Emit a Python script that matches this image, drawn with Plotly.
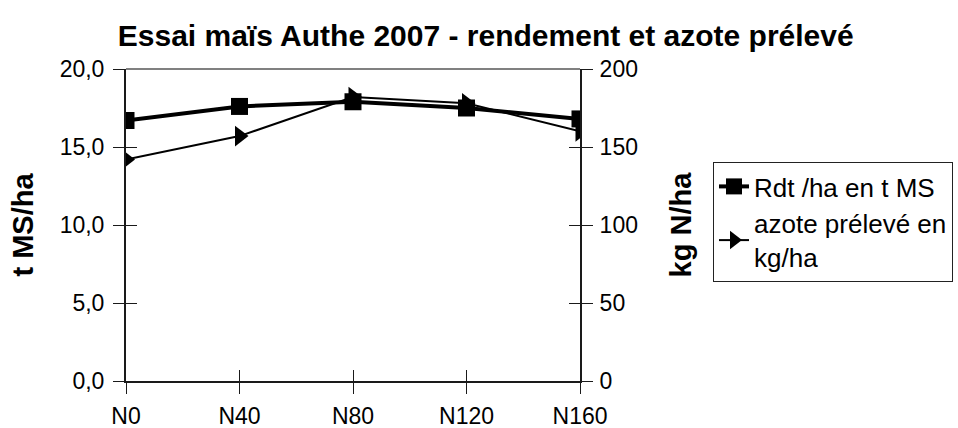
import plotly.graph_objects as go

categories = ["N0", "N40", "N80", "N120", "N160"]
rdt_t_ms = [16.7, 17.6, 17.9, 17.5, 16.8]
azote_kg = [142, 157, 182, 178, 160]

left_tickvals = [0, 5, 10, 15, 20]
left_ticktext = ["0,0", "5,0", "10,0", "15,0", "20,0"]
right_tickvals = [0, 50, 100, 150, 200]
right_ticktext = ["0", "50", "100", "150", "200"]

FONT = "Liberation Sans, Arial, sans-serif"
AX = "#1a1a1a"

fig = go.Figure()
fig.add_trace(go.Scatter(
    x=categories, y=rdt_t_ms, name="Rdt /ha en t MS", mode="lines+markers",
    line=dict(color="black", width=4),
    marker=dict(symbol="square", size=17, color="black"),
    xaxis="x", yaxis="y"))
fig.add_trace(go.Scatter(
    x=categories, y=azote_kg, name="azote prélevé en<br>kg/ha", mode="lines+markers",
    line=dict(color="black", width=2),
    marker=dict(symbol="triangle-right", size=18, color="black"),
    xaxis="x", yaxis="y2"))
# invisible carriers so the overlay axes (inner half of the crossing ticks) get drawn
fig.add_trace(go.Scatter(x=categories, y=rdt_t_ms, mode="lines", line=dict(width=0),
                         opacity=0, hoverinfo="skip", showlegend=False, xaxis="x2", yaxis="y3"))
fig.add_trace(go.Scatter(x=categories, y=azote_kg, mode="lines", line=dict(width=0),
                         opacity=0, hoverinfo="skip", showlegend=False, xaxis="x2", yaxis="y4"))

tickfont = dict(family=FONT, size=23, color="black")
common_x = dict(type="category", categoryorder="array", categoryarray=categories,
                range=[0, 4], domain=[0, 1], automargin=False)

fig.update_layout(
    width=958, height=428,
    margin=dict(l=126, r=378, t=69, b=47, autoexpand=False),
    paper_bgcolor="white", plot_bgcolor="white",
    showlegend=True,
    title=dict(text="<b>Essai maïs Authe 2007 - rendement et azote prélevé</b>",
               font=dict(family=FONT, size=30, color="black"),
               x=0.507, xref="container", xanchor="center",
               y=1 - 35 / 428, yref="container", yanchor="middle"),
    xaxis=dict(**common_x, showgrid=False, zeroline=False,
               showline=True, linecolor=AX, linewidth=2,
               ticks="outside", ticklen=11, tickwidth=1, tickcolor=AX,
               tickfont=tickfont, anchor="y", ticklabelstandoff=2),
    xaxis2=dict(**common_x, overlaying="x", anchor="y3", showgrid=False, zeroline=False,
                showline=False, ticks="inside", ticklen=11, tickwidth=1, tickcolor=AX,
                showticklabels=False),
    yaxis=dict(range=[0, 20], tickvals=left_tickvals, ticktext=left_ticktext,
               showgrid=False, zeroline=False, showline=True, linecolor=AX, linewidth=2,
               ticks="outside", ticklen=11, tickwidth=1, tickcolor=AX,
               tickfont=tickfont, anchor="x", automargin=False, ticklabelstandoff=4,
               title=dict(text="<b>t MS/ha</b>", font=dict(family=FONT, size=29, color="black"),
                          standoff=17)),
    yaxis2=dict(range=[0, 200], tickvals=right_tickvals, ticktext=right_ticktext,
                overlaying="y", side="right", anchor="x",
                showgrid=False, zeroline=False, showline=True, linecolor=AX, linewidth=2,
                ticks="outside", ticklen=11, tickwidth=1, tickcolor=AX,
                tickfont=tickfont, automargin=False, ticklabelstandoff=2,
                title=dict(text="<b>kg N/ha</b>", font=dict(family=FONT, size=29, color="black"),
                           standoff=34)),
    yaxis3=dict(range=[0, 20], tickvals=left_tickvals, overlaying="y", side="left", anchor="x2",
                showgrid=False, zeroline=False, showline=False, automargin=False,
                ticks="inside", ticklen=11, tickwidth=1, tickcolor=AX, showticklabels=False),
    yaxis4=dict(range=[0, 200], tickvals=right_tickvals, overlaying="y", side="right", anchor="x2",
                showgrid=False, zeroline=False, showline=False, automargin=False,
                ticks="inside", ticklen=11, tickwidth=1, tickcolor=AX, showticklabels=False),
    legend=dict(x=(713 - 126) / 454, xanchor="left", y=(381 - 162) / 312, yanchor="top",
                bordercolor="#222", borderwidth=1, bgcolor="white",
                font=dict(family=FONT, size=26, color="black"),
                itemwidth=30, tracegroupgap=4),
    shapes=[dict(type="line", xref="x domain", yref="y domain", x0=0, x1=1, y0=1, y1=1,
                 line=dict(color="#808080", width=2), layer="below")],
)

fig.write_html("out.html", config={"displayModeBar": False},
               post_script="document.body.style.margin='0';")
